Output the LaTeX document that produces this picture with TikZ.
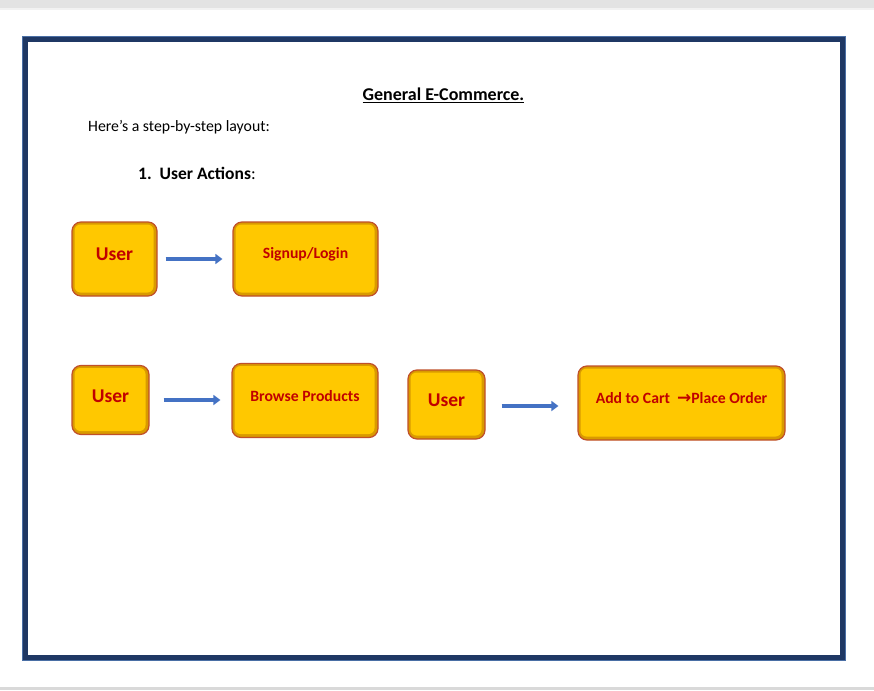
\documentclass[tikz,border=0pt]{standalone}
\usepackage{fontspec}
\setmainfont{Carlito}
\newfontfamily\symfont{DejaVu Sans}
\usetikzlibrary{arrows.meta}
\definecolor{navy}{HTML}{1F3864}
\definecolor{navyedge}{HTML}{4A6FA5}
\definecolor{goldrim}{HTML}{D99A00}
\definecolor{goldfill}{HTML}{FFC800}
\definecolor{boxedge}{HTML}{C0502A}
\definecolor{txtred}{HTML}{C00000}
\definecolor{arrowblue}{HTML}{4472C4}
\tikzset{
  gbox/.style={draw=boxedge, line width=1.2pt, rounded corners=9pt, fill=goldrim,
    minimum width=#1, anchor=center, inner sep=0pt,
    path picture={
      \fill[goldfill, rounded corners=6pt]
        ([shift={(2.5pt,3.5pt)}]path picture bounding box.south west)
        rectangle ([shift={(-3.5pt,-2.5pt)}]path picture bounding box.north east);
    }},
  usertext/.style={text=txtred, font=\bfseries\fontsize{19.5}{21}\selectfont, inner sep=0pt},
  steptext/.style={text=txtred, font=\bfseries\fontsize{15.7}{18}\selectfont, inner sep=0pt},
  flow/.style={arrowblue, line width=4pt, -{Triangle[length=7pt,width=10pt]}}
}
\begin{document}
\begin{tikzpicture}[x=1pt,y=-1pt]
\useasboundingbox (0,0) rectangle (874,690);
\fill[white] (0,0) rectangle (874,690);
% top and bottom grey bands
\fill[gray!22] (0,0) rectangle (874,8);
\fill[gray!10] (0,8) rectangle (874,10);
\fill[gray!30] (0,687) rectangle (874,690);
% frame
\draw[navyedge, line width=1pt] (22.5,36.5) rectangle (845.5,660.5);
\draw[navy, line width=5pt] (25.5,39.5) rectangle (842.5,657.5);
% texts
\node[font=\bfseries\fontsize{18}{20}\selectfont, anchor=center] (title) at (443.5,95) {\underline{General E-Commerce.}};
\node[font=\fontsize{15.8}{18}\selectfont, anchor=west, inner sep=0pt] (intro) at (88,127) {Here’s a step-by-step layout:};
\node[font=\fontsize{17.5}{20}\selectfont, anchor=west, inner sep=0pt] (sec) at (138,173) {\textbf{1.\ \ User Actions}:};
% row 1
\node[gbox=85pt, minimum height=74pt] (u1) at (114.5,259) {};
\node[gbox=145pt, minimum height=74pt] (s1) at (305.5,259) {};
% row 2
\node[gbox=77pt, minimum height=69pt] (u2) at (110.5,400) {};
\node[gbox=146pt, minimum height=74pt] (s2) at (305,400.5) {};
% row 3
\node[gbox=77pt, minimum height=69pt] (u3) at (446.5,404.5) {};
\node[gbox=207pt, minimum height=74pt] (s3) at (681.5,403) {};
% box texts
\node[usertext] (u1t) at ([yshift=4.5pt]u1.center) {User};
\node[steptext] (s1t) at ([yshift=4.5pt]s1.center) {Signup/Login};
\node[usertext] (u2t) at ([yshift=4pt]u2.center) {User};
\node[steptext] (s2t) at ([yshift=4pt]s2.center) {Browse Products};
\node[usertext] (u3t) at ([yshift=4.5pt]u3.center) {User};
\node[steptext] (s3t) at ([yshift=5pt]s3.center) {Add to Cart \ {\symfont\bfseries\fontsize{17}{18}\selectfont →}Place Order};
% arrows
\draw[flow, shorten <=8pt, shorten >=10pt] (u1.east) -- (s1.west);
\draw[flow, shorten <=14pt, shorten >=11pt] (u2.east) -- (u2.east -| s2.west);
\draw[flow, shorten <=16pt, shorten >=19pt] ([yshift=-1.5pt]u3.east) -- ([yshift=-1.5pt]u3.east -| s3.west);
\end{tikzpicture}
\end{document}
